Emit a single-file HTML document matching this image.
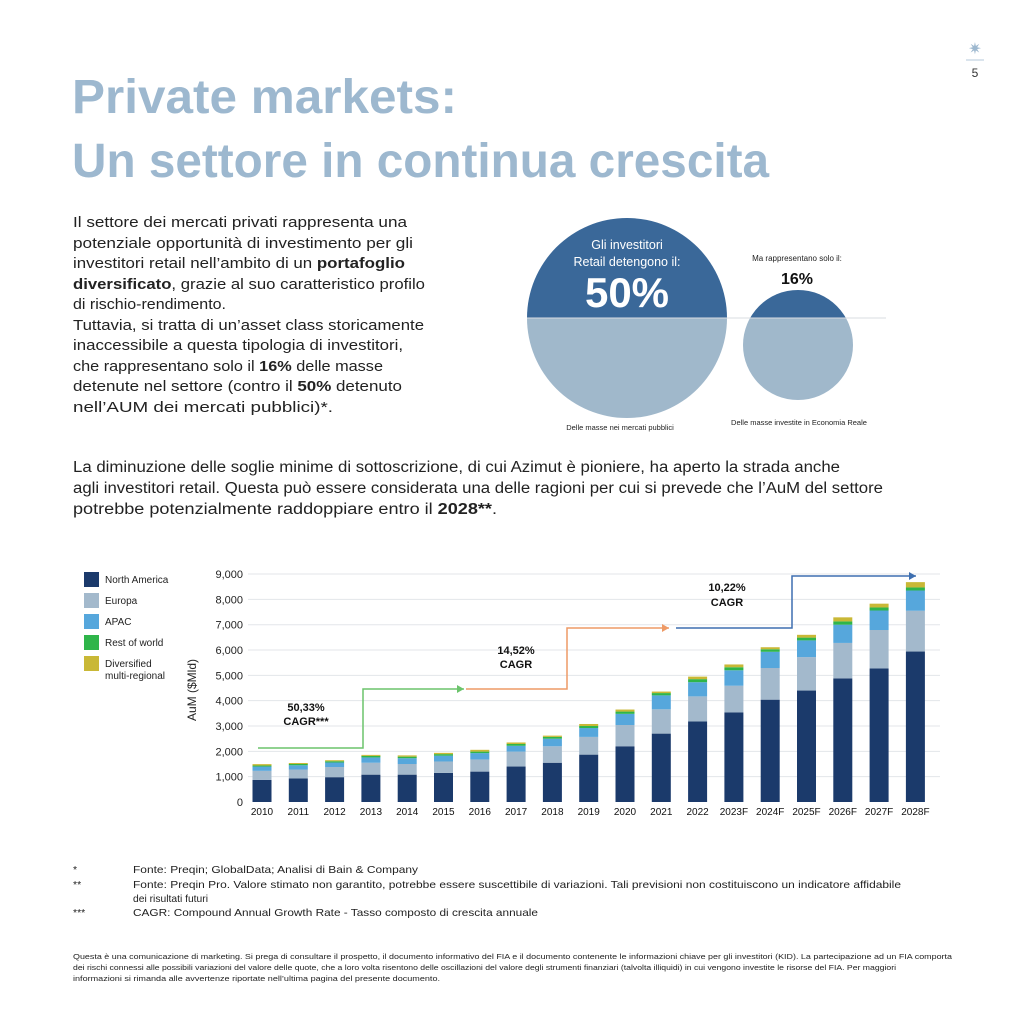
<!DOCTYPE html>
<html><head><meta charset="utf-8"><style>
html,body{margin:0;padding:0;background:#fff;}
svg{display:block;font-family:"Liberation Sans",sans-serif;}
</style></head><body>
<svg id="s" width="1024" height="1024" viewBox="0 0 1024 1024" xmlns="http://www.w3.org/2000/svg">
<rect width="1024" height="1024" fill="#fff"/>
<text x="975" y="54" font-size="16" fill="#9db8cf" text-anchor="middle">✷</text>
<line x1="966" y1="60" x2="984" y2="60" stroke="#9db8cf" stroke-width="0.8"/>
<text x="975" y="77" font-size="12" fill="#333" text-anchor="middle">5</text>
<text x="72" y="113" font-size="48" font-weight="bold" fill="#9db8cf" textLength="385" lengthAdjust="spacingAndGlyphs">Private markets:</text>
<text x="72" y="177" font-size="48" font-weight="bold" fill="#9db8cf" textLength="697" lengthAdjust="spacingAndGlyphs">Un settore in continua crescita</text>
<g font-size="15" fill="#222">
<text x="73" y="227" textLength="334" lengthAdjust="spacingAndGlyphs">Il settore dei mercati privati rappresenta una</text>
<text x="73" y="248" textLength="340" lengthAdjust="spacingAndGlyphs">potenziale opportunità di investimento per gli</text>
<text x="73" y="268" textLength="332" lengthAdjust="spacingAndGlyphs">investitori retail nell’ambito di un <tspan font-weight="bold">portafoglio</tspan></text>
<text x="73" y="289" textLength="352" lengthAdjust="spacingAndGlyphs"><tspan font-weight="bold">diversificato</tspan>, grazie al suo caratteristico profilo</text>
<text x="73" y="309" textLength="153" lengthAdjust="spacingAndGlyphs">di rischio-rendimento.</text>
<text x="73" y="330" textLength="351" lengthAdjust="spacingAndGlyphs">Tuttavia, si tratta di un’asset class storicamente</text>
<text x="73" y="350" textLength="330" lengthAdjust="spacingAndGlyphs">inaccessibile a questa tipologia di investitori,</text>
<text x="73" y="371" textLength="310" lengthAdjust="spacingAndGlyphs">che rappresentano solo il <tspan font-weight="bold">16%</tspan> delle masse</text>
<text x="73" y="391" textLength="329" lengthAdjust="spacingAndGlyphs">detenute nel settore (contro il <tspan font-weight="bold">50%</tspan> detenuto</text>
<text x="73" y="412" textLength="260" lengthAdjust="spacingAndGlyphs">nell’AUM dei mercati pubblici)*.</text>
</g>
<defs>
<clipPath id="top"><rect x="0" y="0" width="1024" height="318"/></clipPath>
<clipPath id="bot"><rect x="0" y="318" width="1024" height="200"/></clipPath>
</defs>
<circle cx="627" cy="318" r="100" fill="#a0b8cb" clip-path="url(#bot)"/>
<circle cx="627" cy="318" r="100" fill="#3a6899" clip-path="url(#top)"/>
<circle cx="798" cy="345" r="55" fill="#a0b8cb" clip-path="url(#bot)"/>
<circle cx="798" cy="345" r="55" fill="#3a6899" clip-path="url(#top)"/>
<line x1="527" y1="318" x2="886" y2="318" stroke="#d8dde2" stroke-width="1"/>
<text x="627" y="249" font-size="12.5" fill="#fff" text-anchor="middle">Gli investitori</text>
<text x="627" y="266" font-size="12.5" fill="#fff" text-anchor="middle">Retail detengono il:</text>
<text x="627" y="307" font-size="42" font-weight="bold" fill="#fff" text-anchor="middle">50%</text>
<text x="797" y="261" font-size="8" fill="#222" text-anchor="middle">Ma rappresentano solo il:</text>
<text x="797" y="284" font-size="16" font-weight="bold" fill="#111" text-anchor="middle">16%</text>
<text x="620" y="430" font-size="7.5" fill="#222" text-anchor="middle">Delle masse nei mercati pubblici</text>
<text x="799" y="425" font-size="7.5" fill="#222" text-anchor="middle">Delle masse investite in Economia Reale</text>
<g font-size="15.5" fill="#222">
<text x="73" y="472" textLength="767" lengthAdjust="spacingAndGlyphs">La diminuzione delle soglie minime di sottoscrizione, di cui Azimut è pioniere, ha aperto la strada anche</text>
<text x="73" y="493" textLength="810" lengthAdjust="spacingAndGlyphs">agli investitori retail. Questa può essere considerata una delle ragioni per cui si prevede che l’AuM del settore</text>
<text x="73" y="514" textLength="424" lengthAdjust="spacingAndGlyphs">potrebbe potenzialmente raddoppiare entro il <tspan font-weight="bold">2028**</tspan>.</text>
</g>
<g font-size="10" fill="#222">
<rect x="84" y="572" width="15" height="15" fill="#1b3a6b"/><text x="105" y="583">North America</text>
<rect x="84" y="593" width="15" height="15" fill="#a3b9cc"/><text x="105" y="604">Europa</text>
<rect x="84" y="614" width="15" height="15" fill="#56a7dc"/><text x="105" y="625">APAC</text>
<rect x="84" y="635" width="15" height="15" fill="#2fb54a"/><text x="105" y="646">Rest of world</text>
<rect x="84" y="656" width="15" height="15" fill="#c9b836"/><text x="105" y="667">Diversified</text>
<text x="105" y="679">multi-regional</text>
</g>
<text transform="translate(196,690) rotate(-90)" font-size="12" fill="#222" text-anchor="middle">AuM ($Mld)</text>
<g id="chart"></g>
<g font-size="10.5" fill="#222">
<text x="73" y="873">*</text><text x="133" y="873" textLength="285" lengthAdjust="spacingAndGlyphs">Fonte: Preqin; GlobalData; Analisi di Bain &amp; Company</text>
<text x="73" y="888">**</text><text x="133" y="888" textLength="768" lengthAdjust="spacingAndGlyphs">Fonte: Preqin Pro. Valore stimato non garantito, potrebbe essere suscettibile di variazioni. Tali previsioni non costituiscono un indicatore affidabile</text>
<text x="133" y="902" textLength="75" lengthAdjust="spacingAndGlyphs">dei risultati futuri</text>
<text x="73" y="916">***</text><text x="133" y="916" textLength="405" lengthAdjust="spacingAndGlyphs">CAGR: Compound Annual Growth Rate - Tasso composto di crescita annuale</text>
</g>
<g font-size="7.5" fill="#222">
<text x="73" y="959" textLength="879" lengthAdjust="spacingAndGlyphs">Questa è una comunicazione di marketing. Si prega di consultare il prospetto, il documento informativo del FIA e il documento contenente le informazioni chiave per gli investitori (KID). La partecipazione ad un FIA comporta</text>
<text x="73" y="970" textLength="823" lengthAdjust="spacingAndGlyphs">dei rischi connessi alle possibili variazioni del valore delle quote, che a loro volta risentono delle oscillazioni del valore degli strumenti finanziari (talvolta illiquidi) in cui vengono investite le risorse del FIA. Per maggiori</text>
<text x="73" y="981" textLength="367" lengthAdjust="spacingAndGlyphs">informazioni si rimanda alle avvertenze riportate nell’ultima pagina del presente documento.</text>
</g>
</svg>
<script>
(function(){
var NS="http://www.w3.org/2000/svg",g=document.getElementById("chart");
function el(t,a,txt){var e=document.createElementNS(NS,t);for(var k in a)e.setAttribute(k,a[k]);if(txt!=null)e.textContent=txt;g.appendChild(e);return e;}
function Y(v){return 802-v*0.02533;}
for(var i=0;i<=9;i++){var y=Y(i*1000);
 if(i>0)el("line",{x1:248,y1:y,x2:940,y2:y,stroke:"#e3e6ea","stroke-width":1});
 el("text",{x:243,y:y+4,"font-size":11,fill:"#222","text-anchor":"end"},i==0?"0":i+",000");}
var labels=["2010","2011","2012","2013","2014","2015","2016","2017","2018","2019","2020","2021","2022","2023F","2024F","2025F","2026F","2027F","2028F"];
var d=[[870,1230,1400,1440,1495],[930,1280,1450,1500,1540],[980,1380,1560,1610,1650],[1080,1550,1760,1820,1860],[1080,1500,1730,1790,1840],[1150,1600,1830,1890,1940],[1200,1680,1930,1990,2060],[1400,1990,2220,2290,2350],[1550,2200,2500,2570,2620],[1870,2570,2920,3000,3080],[2200,3040,3480,3570,3650],[2700,3660,4210,4300,4360],[3180,4170,4730,4850,4950],[3540,4590,5200,5320,5430],[4040,5290,5930,6030,6110],[4400,5720,6380,6490,6600],[4880,6280,7000,7130,7290],[5270,6790,7560,7680,7830],[5940,7550,8350,8470,8680]];
var c=["#1b3a6b","#a3b9cc","#56a7dc","#2fb54a","#c9b836"];
for(var i=0;i<19;i++){var cx=262+i*36.3,prev=0;
 for(var j=0;j<5;j++){var v=d[i][j];el("rect",{x:cx-9.5,y:Y(v),width:19,height:Y(prev)-Y(v),fill:c[j]});prev=v;}
 el("text",{x:cx,y:815,"font-size":10,fill:"#111","text-anchor":"middle"},labels[i]);}
function arrow(pts,col){el("polyline",{points:pts.map(function(p){return p.join(",")}).join(" "),fill:"none",stroke:col,"stroke-width":1.5});
 var p=pts[pts.length-1];el("polygon",{points:(p[0])+","+p[1]+" "+(p[0]-7)+","+(p[1]-4)+" "+(p[0]-7)+","+(p[1]+4),fill:col});}
arrow([[258,748],[363,748],[363,689],[464,689]],"#6cc46c");
arrow([[466,689],[567,689],[567,628],[669,628]],"#ee9a66");
arrow([[676,628],[792,628],[792,576],[916,576]],"#3e6fb0");
var lt=[[306,711,"50,33%"],[306,725,"CAGR***"],[516,654,"14,52%"],[516,668,"CAGR"],[727,591,"10,22%"],[727,606,"CAGR"]];
lt.forEach(function(t){el("text",{x:t[0],y:t[1],"font-size":11,"font-weight":"bold",fill:"#111","text-anchor":"middle"},t[2]);});
})();
</script>
</body></html>
